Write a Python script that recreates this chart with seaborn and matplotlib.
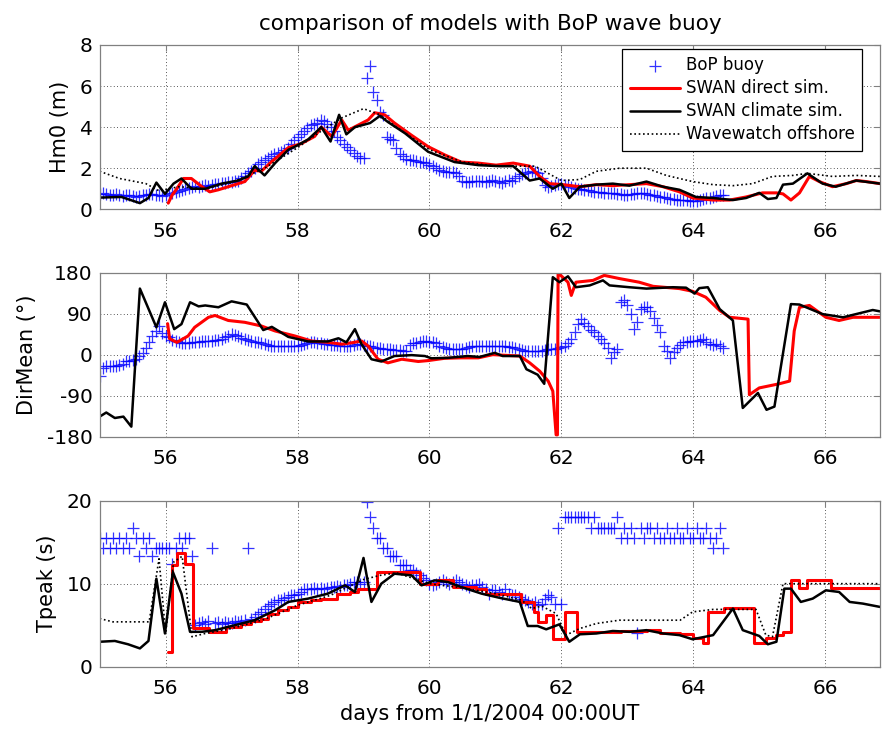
import numpy as np
import pandas as pd
import matplotlib
matplotlib.use("Agg")
import matplotlib.pyplot as plt
import seaborn as sns

# ---------------- BoP buoy observations (sampled every 0.05 day from day 55) ----------------
buoy_start = 55.0
buoy_step = 0.05

buoy_hm0 = [
    0.75, 0.8, 0.75, 0.7, 0.7, 0.75, 0.7, 0.65, 0.7, 0.7, 0.65, 0.6, 0.65, 0.7, 0.7, 0.75, 0.75, 0.7, 0.7, 0.65,
    0.7, 0.75, 0.8, 0.85, 0.9, 0.95, 1.0, 1.05, 1.1, 1.15, 1.1, 1.15, 1.2, 1.15, 1.2, 1.25, 1.25, 1.3, 1.3, 1.35,
    1.35, 1.4, 1.4, 1.5, 1.6, 1.75, 1.85, 2.0, 2.2, 2.3, 2.4, 2.5, 2.6, 2.7, 2.75, 2.8, 2.9, 3.0, 3.2, 3.35,
    3.5, 3.65, 3.8, 3.95, 4.1, 4.15, 4.2, 4.35, 4.3, 4.15, 4.0, 3.8, 3.5, 3.35, 3.2, 3.05, 2.9, 2.75, 2.6, 2.5,
    2.5, 6.4, 7.0, 5.7, 5.3, 4.75, 4.6, 3.5, 3.4, 3.35, 3.0, 2.7, 2.6, 2.45, 2.4, 2.4, 2.35, 2.3, 2.3, 2.25,
    2.15, 2.1, 2.0, 1.9, 1.85, 1.8, 1.8, 1.8, 1.75, 1.6, 1.4, 1.35, 1.35, 1.4, 1.4, 1.4, 1.4, 1.35, 1.4, 1.45,
    1.4, 1.35, 1.3, 1.4, 1.45, 1.4, 1.5, 1.6, 1.7, 1.75, 1.8, 1.85, 1.8, 1.75, 1.5, 1.2, 1.1, 1.15, 1.2, 1.25,
    1.25, 1.2, 1.15, 1.1, 1.05, 1.0, 1.0, 0.95, 0.95, 0.9, 0.85, 0.85, 0.85, 0.8, 0.8, 0.8, 0.8, 0.75, 0.75, 0.7,
    0.7, 0.75, 0.75, 0.8, 0.8, 0.8, 0.75, 0.7, 0.7, 0.65, 0.6, 0.6, 0.55, 0.5, 0.5, 0.45, 0.45, 0.45, 0.45, 0.4,
    0.4, 0.4, 0.45, 0.5, 0.55, 0.55, 0.6, 0.65, 0.7, 0.7]

buoy_dir = [
    -47, -30, -25, -25, -25, -24, -22, -20, -15, -13, -11, -9, -4, 4, 14, 28, 40, 52, 63, 48,
    42, 38, 33, 30, 28, 26, 25, 26, 27, 27, 28, 29, 30, 30, 31, 32, 33, 35, 38, 42,
    45, 43, 41, 37, 34, 32, 30, 28, 27, 26, 24, 22, 20, 19, 19, 18, 19, 19, 20, 20,
    20, 22, 24, 26, 27, 27, 26, 25, 23, 23, 22, 21, 21, 20, 19, 19, 20, 21, 23, 23,
    22, 20, 18, 16, 15, 14, 13, 12, 12, 11, 11, 10, 8, 9, 22, 25, 26, 28, 29, 29,
    28, 27, 25, 20, 16, 14, 13, 12, 12, 12, 13, 14, 16, 18, 19, 19, 20, 19, 19, 18,
    19, 19, 18, 18, 17, 16, 15, 13, 10, 9, 8, 8, 8, 8, 9, 10, 12, 12, 12, 14,
    16, 20, 26, 35, 50, 68, 78, 70, 62, 55, 50, 42, 35, 25, 15, -7, 5, 12, 116, 119,
    110, 89, 56, 72, 100, 104, 104, 96, 80, 65, 50, 18, 8, -7, 5, 15, 22, 27, 28, 30,
    30, 31, 33, 34, 28, 23, 22, 23, 20, 15]

buoy_tp = [
    15.5, 14.3, 15.5, 14.3, 15.5, 14.3, 15.5, 14.3, 15.5, 14.3, 16.7, 15.5, 13.3, 15.5, 14.3, 15.5, 13.3, 14.3, 14.3, 14.3,
    14.3, 14.3, 12.4, 14.3, 15.5, 14.3, 15.5, 15.5, 13.3, 5.0, 5.3, 5.4, 5.1, 5.5, 14.3, 5.3, 5.4, 5.2, 5.4, 5.3,
    5.3, 5.5, 5.4, 5.5, 5.6, 14.3, 5.8, 6.0, 6.3, 6.6, 6.9, 7.3, 7.6, 7.8, 8.0, 8.0, 8.3, 8.4, 8.6, 8.6,
    8.8, 9.0, 9.4, 9.4, 9.4, 9.5, 9.4, 9.5, 9.4, 9.5, 9.6, 9.6, 9.7, 9.6, 9.8, 9.8, 10.0, 10.2, 10.2, 10.0,
    10.2, 19.9, 18.0, 16.7, 15.5, 15.5, 14.3, 14.3, 13.3, 13.3, 13.3, 12.2, 12.2, 12.2, 11.6, 11.6, 11.3, 11.0, 10.7, 10.4,
    10.0, 9.8, 10.0, 10.2, 10.4, 10.2, 10.0, 10.2, 10.4, 10.2, 10.0, 9.8, 9.6, 9.8, 9.8, 10.0, 9.6, 9.4, 8.8, 9.2,
    9.2, 9.0, 8.8, 9.4, 8.8, 8.6, 8.6, 8.4, 8.2, 8.0, 7.8, 7.6, 7.8, 7.4, 7.6, 8.2, 8.6, 8.4, 7.6, 16.7,
    7.6, 18.0, 18.0, 18.0, 18.0, 18.0, 18.0, 18.0, 18.0, 16.7, 18.0, 16.7, 16.7, 16.7, 16.7, 16.7, 16.7, 18.0, 15.5, 16.7,
    15.5, 16.7, 15.5, 4.1, 16.7, 15.5, 16.7, 16.7, 15.5, 16.7, 15.5, 15.5, 16.7, 15.5, 15.5, 16.7, 15.5, 15.5, 16.7, 15.5,
    15.5, 16.7, 15.5, 15.5, 16.7, 15.5, 14.3, 15.5, 16.7, 14.3]

buoy_day = buoy_start + buoy_step * np.arange(len(buoy_hm0))

# ---------------- SWAN direct simulation ----------------
direct_hm0_day = [56.04, 56.1, 56.17, 56.27, 56.39, 56.55, 56.67, 56.8, 56.95, 57.2,
                  57.35, 57.45, 57.6, 57.86, 58.06, 58.26, 58.36, 58.52, 58.67, 58.77,
                  58.92, 59.07, 59.17, 59.32, 59.47, 59.73, 59.98, 60.23, 60.48, 60.74,
                  61.01, 61.27, 61.52, 61.67, 61.82, 62.02, 62.28, 62.53, 62.78, 63.03,
                  63.29, 63.54, 63.79, 63.99, 64.3, 64.55, 64.8, 65.05, 65.26, 65.36,
                  65.48, 65.61, 65.76, 65.91, 66.11, 66.32, 66.47, 66.62, 66.83]
direct_hm0 = [0.3, 0.7, 1.0, 1.5, 1.5, 1.1, 0.85, 0.95, 1.1, 1.35,
              1.9, 1.85, 2.3, 3.0, 3.2, 3.55, 4.0, 3.55, 4.35, 3.85,
              4.1, 4.35, 4.7, 4.6, 4.2, 3.6, 3.05, 2.65, 2.3, 2.25,
              2.15, 2.25, 2.1, 1.6, 1.25, 1.2, 1.1, 1.2, 1.15, 1.2,
              1.25, 1.1, 0.85, 0.55, 0.45, 0.45, 0.6, 0.8, 0.8, 0.75,
              0.45, 0.8, 1.6, 1.35, 1.1, 1.25, 1.4, 1.35, 1.25]

direct_dir_day = [56.03, 56.06, 56.17, 56.34, 56.44, 56.65, 56.75, 56.95, 57.2, 57.45,
                  57.66, 57.96, 58.21, 58.46, 58.67, 58.82, 58.97, 59.07, 59.22, 59.37,
                  59.58, 59.83, 59.98, 60.23, 60.48, 60.74, 60.96, 61.37, 61.52, 61.67,
                  61.8, 61.87, 61.92, 61.94, 61.95, 62.02, 62.1, 62.15, 62.22, 62.48,
                  62.65, 62.88, 63.18, 63.39, 63.79, 63.99, 64.19, 64.4, 64.55, 64.83,
                  64.85, 65.0, 65.3, 65.46, 65.53, 65.61, 65.76, 66.01, 66.21, 66.42,
                  66.83]
direct_dir = [68, 35, 27, 41, 60, 82, 86, 75, 71, 63,
              52, 41, 30, 27, 23, 26, 30, 19, -10, -18,
              -10, -15, -13, -8, -7, -7, 0, -3, -18, -36,
              -58, -80, -176, -176, 179, 170, 159, 130, 159, 163,
              174, 167, 159, 150, 145, 139, 126, 97, 82, 78,
              -88, -73, -64, -58, 52, 104, 108, 82, 75, 82,
              82]

direct_tp_day = [56.03, 56.09, 56.1, 56.18, 56.3, 56.41, 56.66, 56.91, 57.15, 57.3,
                 57.45, 57.55, 57.7, 57.86, 58.0, 58.2, 58.36, 58.6, 58.8, 58.92,
                 59.2, 59.86, 60.13, 60.35, 60.7, 60.86, 61.39, 61.59, 61.64, 61.77,
                 61.87, 62.06, 62.23, 62.9, 63.3, 63.5, 63.8, 63.99, 64.14, 64.22,
                 64.47, 64.92, 65.1, 65.26, 65.36, 65.48, 65.6, 65.73, 66.08, 66.83]
direct_tp = [1.8, 2.2, 12.3, 13.7, 12.4, 4.6, 4.2, 4.8, 5.2, 5.5,
             5.8, 6.4, 6.8, 7.2, 7.8, 8.0, 8.2, 8.8, 9.0, 9.4,
             11.4, 10.0, 10.4, 9.6, 9.4, 8.7, 7.8, 6.6, 5.4, 6.2,
             3.3, 6.6, 4.2, 4.3, 4.4, 4.1, 3.9, 3.5, 2.9, 6.6,
             7.1, 2.8, 3.4, 3.8, 4.2, 10.4, 9.5, 10.4, 9.5, 9.5]

# ---------------- SWAN climate simulation ----------------
climate_hm0_day = [55.0, 55.33, 55.61, 55.74, 55.86, 55.99, 56.12, 56.24, 56.39, 56.6,
                   56.85, 57.1, 57.25, 57.35, 57.5, 57.66, 57.86, 57.96, 58.16, 58.36,
                   58.5, 58.63, 58.74, 58.87, 59.1, 59.25, 59.37, 59.63, 59.98, 60.38,
                   60.74, 61.06, 61.27, 61.52, 61.67, 61.87, 62.0, 62.12, 62.28, 62.53,
                   62.78, 63.03, 63.29, 63.54, 63.79, 64.04, 64.3, 64.6, 64.8, 65.0,
                   65.13, 65.26, 65.36, 65.51, 65.73, 65.96, 66.16, 66.47, 66.83]
climate_hm0 = [0.57, 0.6, 0.3, 0.55, 1.3, 0.75, 1.25, 1.5, 1.0, 1.0,
               1.25, 1.4, 1.6, 2.1, 1.65, 2.25, 2.9, 3.05, 3.4, 4.0,
               3.3, 4.6, 3.65, 4.0, 4.2, 4.55, 4.25, 3.7, 2.8, 2.3,
               2.15, 2.1, 2.1, 1.4, 1.5, 1.0, 1.25, 0.55, 1.1, 1.2,
               1.25, 1.15, 1.35, 1.1, 0.95, 0.6, 0.55, 0.45, 0.55, 0.8,
               0.5, 0.55, 1.2, 1.25, 1.75, 1.25, 1.1, 1.4, 1.25]

climate_dir_day = [55.0, 55.1, 55.23, 55.36, 55.48, 55.61, 55.86, 55.99, 56.13, 56.24,
                   56.37, 56.5, 56.6, 56.8, 57.0, 57.23, 57.48, 57.61, 57.86, 58.16,
                   58.46, 58.62, 58.74, 58.87, 58.97, 59.12, 59.27, 59.47, 59.73, 59.93,
                   60.03, 60.28, 60.58, 60.76, 60.99, 61.11, 61.37, 61.47, 61.64, 61.74,
                   61.87, 61.97, 62.1, 62.22, 62.43, 62.63, 62.73, 63.03, 63.29, 63.69,
                   63.89, 64.02, 64.09, 64.22, 64.4, 64.6, 64.75, 64.98, 65.11, 65.23,
                   65.48, 65.61, 65.96, 66.27, 66.72, 66.83]
climate_dir = [-136, -127, -139, -136, -158, 145, 60, 115, 56, 67,
               115, 106, 108, 104, 117, 110, 54, 61, 39, 29,
               29, 36, 27, 56, 23, -10, -15, -3, -1, -3,
               -8, -7, -3, -5, 4, -3, -3, -32, -44, -64,
               170, 159, 172, 148, 152, 163, 152, 148, 145, 148,
               147, 134, 146, 148, 100, 75, -117, -84, -121, -114,
               111, 110, 89, 82, 98, 95]

climate_tp_day = [55.0, 55.23, 55.43, 55.61, 55.74, 55.86, 55.99, 56.11, 56.24, 56.37,
                  56.55, 56.75, 57.05, 57.35, 57.66, 57.86, 58.16, 58.46, 58.72, 58.87,
                  59.0, 59.12, 59.27, 59.47, 59.73, 59.88, 60.08, 60.28, 60.48, 60.79,
                  61.06, 61.37, 61.49, 61.64, 61.77, 61.97, 62.12, 62.28, 62.53, 62.78,
                  63.03, 63.29, 63.54, 63.79, 63.99, 64.3, 64.6, 64.75, 65.0, 65.13,
                  65.26, 65.38, 65.48, 65.63, 65.81, 66.01, 66.21, 66.37, 66.57, 66.83]
climate_tp = [3.0, 3.1, 2.7, 2.2, 3.1, 10.6, 4.0, 11.4, 8.8, 4.2,
              4.2, 4.4, 5.0, 5.6, 6.8, 7.8, 8.2, 8.8, 9.8, 9.0,
              13.1, 7.8, 10.0, 11.2, 11.0, 9.8, 10.4, 10.2, 9.6, 8.8,
              8.3, 7.8, 4.9, 4.9, 4.5, 5.1, 3.0, 3.9, 4.0, 4.3,
              4.2, 4.4, 4.0, 3.8, 3.3, 3.8, 7.0, 4.4, 3.7, 2.7,
              3.0, 9.4, 9.4, 7.8, 8.2, 9.2, 9.0, 7.8, 7.6, 7.2]

# ---------------- Wavewatch offshore ----------------
ww_hm0_day = [55.0, 55.3, 55.7, 55.9, 56.2, 56.6, 57.0, 57.5, 58.0, 58.4,
              58.67, 59.0, 59.25, 59.5, 60.0, 60.5, 61.0, 61.6, 62.0, 62.28,
              62.53, 62.88, 63.29, 63.59, 63.99, 64.3, 64.6, 64.9, 65.2, 65.51,
              65.73, 66.11, 66.47, 66.83]
ww_hm0 = [1.85, 1.5, 1.25, 0.9, 1.1, 1.0, 1.3, 2.0, 3.0, 3.9,
          4.45, 4.9, 4.6, 4.0, 2.9, 2.3, 2.1, 2.1, 1.4, 1.45,
          1.85, 2.0, 2.0, 1.65, 1.35, 1.2, 1.15, 1.25, 1.6, 1.65,
          1.75, 1.6, 1.65, 1.6]

ww_tp_day = [55.0, 55.2, 55.75, 55.9, 56.0, 56.12, 56.25, 56.4, 56.6, 57.0,
             57.5, 58.0, 58.5, 59.0, 59.25, 59.5, 60.0, 60.5, 61.0, 61.4,
             61.55, 61.7, 61.92, 62.07, 62.28, 62.53, 62.88, 63.8, 63.99, 64.3,
             64.95, 65.1, 65.2, 65.36, 66.83]
ww_tp = [5.8, 5.4, 5.4, 13.0, 4.0, 12.6, 13.3, 3.6, 4.0, 4.6,
         5.7, 7.4, 8.6, 10.5, 11.0, 11.3, 10.0, 9.5, 8.8, 8.0,
         7.0, 7.3, 6.4, 3.8, 4.6, 5.2, 5.6, 5.6, 6.6, 6.9,
         6.9, 3.8, 3.6, 10.0, 10.0]

# ---------------- axis settings ----------------
day_ticks = [56, 58, 60, 62, 64, 66]
panel_ylabels = ["Hm0 (m)", "DirMean (\u00b0)", "Tpeak (s)"]
panel_ylims = [(0, 8), (-180, 180), (0, 20)]
panel_yticks = [[0, 2, 4, 6, 8], [-180, -90, 0, 90, 180], [0, 10, 20]]
legend_labels = ["BoP buoy", "SWAN direct sim.", "SWAN climate sim.", "Wavewatch offshore"]

sns.set_theme(style="white")
plt.rcParams["font.family"] = ["DejaVu Sans"]
plt.rcParams["axes.unicode_minus"] = False
plt.rcParams["text.color"] = "black"
plt.rcParams["axes.labelcolor"] = "black"

fig = plt.figure(figsize=(8.82, 7.29), dpi=100)
rects = [[0.1130, 0.7129, 0.8847, 0.2254],
         [0.1130, 0.4010, 0.8847, 0.2250],
         [0.1130, 0.0855, 0.8847, 0.2277]]
axes = [fig.add_axes(r) for r in rects]

buoy_kw = dict(marker="+", s=70, color="#0000ff", linewidth=0.9, alpha=0.8, zorder=2)
red_kw = dict(color="#ff0000", linewidth=2.2, estimator=None, sort=False, zorder=3)
blk_kw = dict(color="black", linewidth=1.8, estimator=None, sort=False, zorder=4)
ww_kw = dict(color="black", linewidth=1.2, linestyle=(0, (1, 1.6)), estimator=None,
             sort=False, zorder=5)

# Hm0 panel
ax = axes[0]
sns.scatterplot(x=buoy_day, y=buoy_hm0, ax=ax, label=legend_labels[0], **buoy_kw)
sns.lineplot(x=direct_hm0_day, y=direct_hm0, ax=ax, label=legend_labels[1], **red_kw)
sns.lineplot(x=climate_hm0_day, y=climate_hm0, ax=ax, label=legend_labels[2], **blk_kw)
sns.lineplot(x=ww_hm0_day, y=ww_hm0, ax=ax, label=legend_labels[3], **ww_kw)

# DirMean panel
ax = axes[1]
sns.scatterplot(x=buoy_day, y=buoy_dir, ax=ax, legend=False, **buoy_kw)
sns.lineplot(x=direct_dir_day, y=direct_dir, ax=ax, legend=False, **red_kw)
sns.lineplot(x=climate_dir_day, y=climate_dir, ax=ax, legend=False, **blk_kw)

# Tpeak panel
ax = axes[2]
sns.scatterplot(x=buoy_day, y=buoy_tp, ax=ax, legend=False, **buoy_kw)
sns.lineplot(x=direct_tp_day, y=direct_tp, ax=ax, legend=False,
             drawstyle="steps-post", **red_kw)
sns.lineplot(x=climate_tp_day, y=climate_tp, ax=ax, legend=False, **blk_kw)
sns.lineplot(x=ww_tp_day, y=ww_tp, ax=ax, legend=False, **ww_kw)

for ax, lab, lim, yt in zip(axes, panel_ylabels, panel_ylims, panel_yticks):
    ax.set_xlim(55, 66.83)
    ax.set_ylim(*lim)
    ax.set_xticks(day_ticks)
    ax.set_yticks(yt)
    ax.set_ylabel(lab, fontsize=15, labelpad=7, color="black")
    ax.grid(True, color="#222222", linestyle=(0, (1, 3)), linewidth=0.6)
    ax.set_axisbelow(True)
    for sp in ax.spines.values():
        sp.set_color("#808080")
        sp.set_linewidth(0.9)
        sp.set_zorder(6)
    ax.tick_params(direction="in", length=4, width=0.8, color="#808080",
                   top=True, right=True, labelsize=14.5, labelcolor="black")
    ax.tick_params(axis="y", pad=5)
    ax.tick_params(axis="x", pad=9)
    ax.set_xlabel("")

axes[0].set_title("comparison of models with BoP wave buoy", fontsize=15.5, pad=11,
                  color="black")
axes[2].set_xlabel("days from 1/1/2004 00:00UT", fontsize=15, labelpad=4, color="black")

handles, labels = axes[0].get_legend_handles_labels()
leg = axes[0].legend(handles, labels, loc="upper right", bbox_to_anchor=(0.977, 0.976),
                     borderaxespad=0, fontsize=12, frameon=True, fancybox=False,
                     edgecolor="black", framealpha=1, labelspacing=0.3,
                     handlelength=3.0, handletextpad=0.35, borderpad=0.45,
                     scatterpoints=1)
leg.get_frame().set_linewidth(0.9)
leg.set_zorder(10)
for txt in leg.get_texts():
    txt.set_color("black")

fig.savefig("out.png", dpi=100)
